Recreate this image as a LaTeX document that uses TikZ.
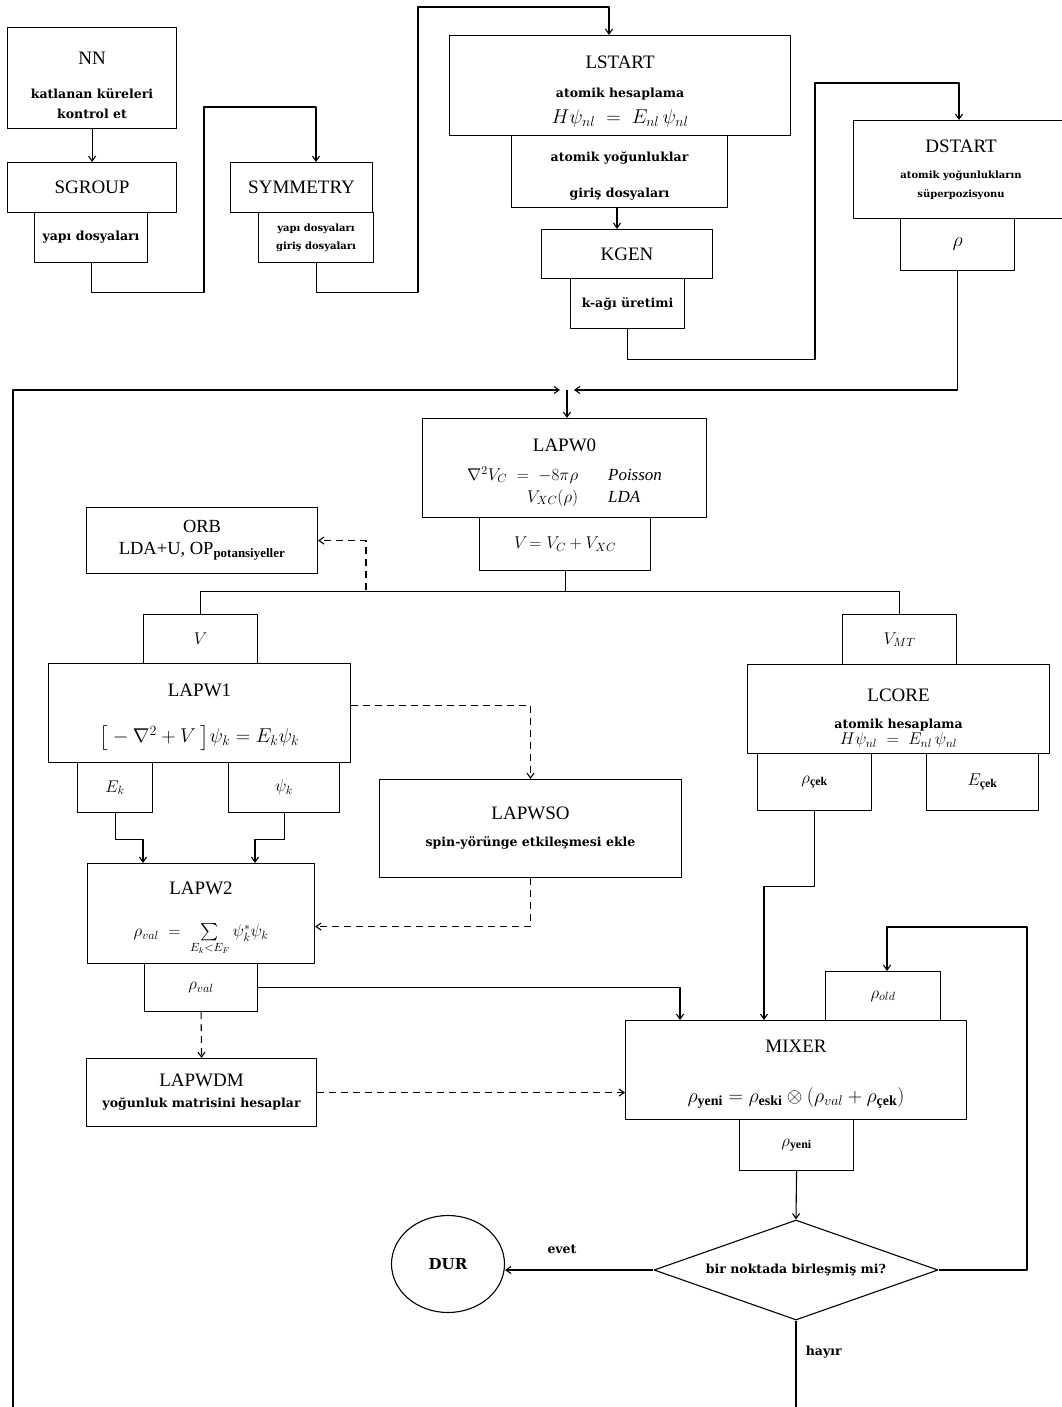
\RequirePackage{fix-cm}
\documentclass[tikz,border=0pt]{standalone}
\usepackage{amsmath}
\usepackage{fontspec}
\setmainfont{Liberation Serif}
\newfontfamily\kalinyazi{DejaVu Serif}
\usetikzlibrary{arrows.meta,shapes.geometric}
\newcommand{\bas}{\normalfont\fontsize{19}{22}\selectfont}
\newcommand{\kal}{\kalinyazi\bfseries\fontsize{12.5}{15}\selectfont}
\newcommand{\kalk}{\kalinyazi\bfseries\fontsize{10}{13}\selectfont}
\newcommand{\esit}{\fontsize{20}{24}\selectfont}
\newcommand{\esitk}{\fontsize{17}{20}\selectfont}
\newcommand{\orbf}{\fontsize{18.5}{22}\selectfont}
\begin{document}
\begin{tikzpicture}[x=1pt,y=-1pt,line width=1.1pt,line join=round,
  kutu/.style={draw,anchor=north west,inner sep=0pt,align=center},
  ok/.style={-{Straight Barb[length=5pt,width=7pt]}},
  kesik/.style={dash pattern=on 7pt off 5pt}]
\useasboundingbox (0,0) rectangle (1061,1407);

% giris programlari
\node[kutu,font=\kal,minimum width=169pt,minimum height=101pt] (nn) at (7,27) {{\bas\rule{0pt}{27pt}NN}\\[19pt]katlanan küreleri\\[5pt]kontrol et};
\node[kutu,font=\bas,minimum width=169pt,minimum height=50pt] (sgroup) at (7,162) {SGROUP};
\node[kutu,font=\kal,minimum width=113pt,minimum height=50pt] (sgroupcikti) at (34,212) {yapı dosyaları};
\node[kutu,font=\bas,minimum width=142pt,minimum height=50pt] (symmetry) at (230,162) {SYMMETRY};
\node[kutu,font=\kalk,minimum width=115pt,minimum height=50pt] (symcikti) at (258,212) {yapı dosyaları\\[5pt]giriş dosyaları};
\node[kutu,font=\kal,minimum width=341pt,minimum height=100pt] (lstart) at (449,35) {{\bas\rule{0pt}{25pt}LSTART}\\[14pt]atomik hesaplama\\[9pt]{\esit $H\psi_{nl} \;=\; E_{nl}\,\psi_{nl}$}};
\node[kutu,font=\kal,minimum width=216pt,minimum height=72pt] (lstartcikti) at (511,135) {\rule{0pt}{19pt}atomik yoğunluklar\\[21pt]giriş dosyaları};
\node[kutu,font=\bas,minimum width=171pt,minimum height=49pt] (kgen) at (541,229) {KGEN};
\node[kutu,font=\kal,minimum width=114pt,minimum height=50pt] (kgencikti) at (570,278) {k-ağı üretimi};
\node[kutu,font=\kalk,minimum width=215pt,minimum height=98pt] (dstart) at (853,120) {{\bas DSTART}\\[13pt]atomik yoğunlukların\\[6pt]süperpozisyonu};
\node[kutu,font=\esit,minimum width=114pt,minimum height=52pt] (dstartcikti) at (900,218) {$\rho$};

% scf dongusu
\node[kutu,font=\esitk,minimum width=284pt,minimum height=99pt] (lapwsifir) at (422,418) {{\bas\rule{0pt}{24pt}LAPW0}\\[13pt]\begin{tabular}{@{}r@{\hspace{30pt}}l@{}}$\nabla^2 V_C \;=\; -8\pi\rho$ & \textit{Poisson}\\[2pt] $V_{XC}(\rho)$ & \textit{LDA}\end{tabular}};
\node[kutu,font=\esitk,minimum width=171pt,minimum height=53pt] (lapwsifircikti) at (479,517) {$V\!=V_C+V_{XC}$};
\node[kutu,font=\orbf,minimum width=231pt,minimum height=66pt] (orb) at (86,507) {ORB\\LDA+U, OP$_{\text{\bfseries potansiyeller}}$};
\node[kutu,font=\esitk,minimum width=114pt,minimum height=49pt] (vgiris) at (143,614) {$V$};
\node[kutu,font=\bas,minimum width=302pt,minimum height=99pt] (lapwbir) at (48,663) {\rule{0pt}{21pt}LAPW1\\[24pt]{\esit $\big[-\nabla^2+V\ \big]\psi_k = E_k\psi_k$}};
\node[kutu,font=\esitk,minimum width=75pt,minimum height=50pt] (ek) at (77,762) {$E_k$};
\node[kutu,font=\esitk,minimum width=111pt,minimum height=50pt] (psik) at (228,762) {$\psi_k$};
\node[kutu,font=\bas,minimum width=227pt,minimum height=100pt] (lapwiki) at (87,863) {\rule{0pt}{23pt}LAPW2\\[20pt]{\esitk $\rho_{val} \;=\; \sum\limits_{E_k<E_F}\psi_k^{*}\psi_k$}};
\node[kutu,font=\esitk,minimum width=113pt,minimum height=48pt] (rhoval) at (144,963) {$\rho_{val}$};
\node[kutu,font=\kal,minimum width=230pt,minimum height=68pt] (lapwdm) at (86,1058) {{\bas LAPWDM}\\[6pt]yoğunluk matrisini hesaplar};
\node[kutu,font=\kal,minimum width=302pt,minimum height=98pt] (lapwso) at (379,779) {{\bas LAPWSO}\\[12pt]spin-yörünge etkileşmesi ekle};
\node[kutu,font=\esitk,minimum width=114pt,minimum height=50pt] (vmt) at (842,614) {$V_{MT}$};
\node[kutu,font=\kal,minimum width=302pt,minimum height=89pt] (lcore) at (747,664) {{\bas\rule{0pt}{32pt}LCORE}\\[12pt]atomik hesaplama\\[1pt]{\esitk $H\psi_{nl} \;=\; E_{nl}\,\psi_{nl}$}};
\node[kutu,font=\esitk,minimum width=114pt,minimum height=57pt] (rhocek) at (757,753) {$\rho_{\text{\bfseries çek}}$};
\node[kutu,font=\esitk,minimum width=112pt,minimum height=57pt] (ecek) at (926,753) {$E_{\text{\bfseries çek}}$};
\node[kutu,font=\esitk,minimum width=115pt,minimum height=49pt] (rhoold) at (825,971) {$\rho_{old}$};
\node[kutu,font=\bas,minimum width=341pt,minimum height=99pt] (mixer) at (625,1020) {\rule{0pt}{21pt}MIXER\\[28pt]{\esit $\rho_{\text{\bfseries yeni}} = \rho_{\text{\bfseries eski}} \otimes (\rho_{val}+\rho_{\text{\bfseries çek}})$}};
\node[kutu,font=\esitk,minimum width=114pt,minimum height=51pt] (rhoyeni) at (739,1119) {$\rho_{\text{\bfseries yeni}}$};
\node[draw,diamond,aspect=2.8,inner sep=0pt,minimum width=284pt,minimum height=100pt,font=\kal] (karar) at (796,1270) {bir noktada birleşmiş mi?};
\node[draw,ellipse,minimum width=113pt,minimum height=97pt,font=\kalinyazi\bfseries\fontsize{15}{18}\selectfont] (dur) at (448,1264) {DUR};
\node[font=\kal] (evet) at (562,1249) {evet};
\node[font=\kal,anchor=west] (hayir) at (802,1352) {hayır};

% baglantilar
\draw[ok] (nn.south) -- (sgroup.north);
\draw[ok] (sgroupcikti.south) -- ++(0,29) -| (204,107) -| (316,0 |- symmetry.north);
\draw[ok] (symcikti.south) -- ++(0,29) -| (418,7) -| (609,0 |- lstart.north);
\draw[ok] (617,0 |- lstartcikti.south) -- (617,0 |- kgen.north);
\draw[ok] (kgencikti.south) -- ++(0,30) -| (815,83) -| (959,0 |- dstart.north);
\coordinate (birles) at (567,390);
\coordinate (solalt) at (13,1407);
\coordinate (sagalt) at (796,1407);
\draw[ok] (dstartcikti.south) |- ([xshift=7pt]birles);
\draw[ok] (solalt) |- ([xshift=-7pt]birles);
\draw[ok] (birles) -- (birles |- lapwsifir.north);
\draw (lapwsifircikti.south) -- ++(0,20) coordinate (dal);
\draw (vgiris.north) |- (dal) -| (vmt.north);
\coordinate (orbdal) at (366,590);
\draw[kesik,ok] (orbdal) |- (orb.east);
\draw[kesik,ok] ([yshift=8pt]lapwbir.east) -| (lapwso.north);
\draw[kesik,ok] (lapwso.south) |- ([yshift=-13pt]lapwiki.east);
\draw[ok] (ek.south) -- ++(0,26) -| (143,0 |- lapwiki.north);
\draw[ok] (psik.south) -- ++(0,26) -| (255,0 |- lapwiki.north);
\draw[ok] (rhoval.east) -| (680,0 |- mixer.north);
\draw[kesik,ok] (rhoval.south) -- (lapwdm.north);
\draw[kesik,ok] (lapwdm.east) -- (lapwdm.east -| mixer.west);
\draw[ok] (rhocek.south) -- ++(0,75) -| (764,0 |- mixer.north);
\draw[ok] (karar.east) -| (1027,927) -| (887,0 |- rhoold.north);
\draw[ok] (rhoyeni.south) -- (karar.north);
\draw[ok] (karar.west) -- (karar.west -| dur.east);
\draw (karar.south) -- (sagalt);
\end{tikzpicture}
\end{document}
